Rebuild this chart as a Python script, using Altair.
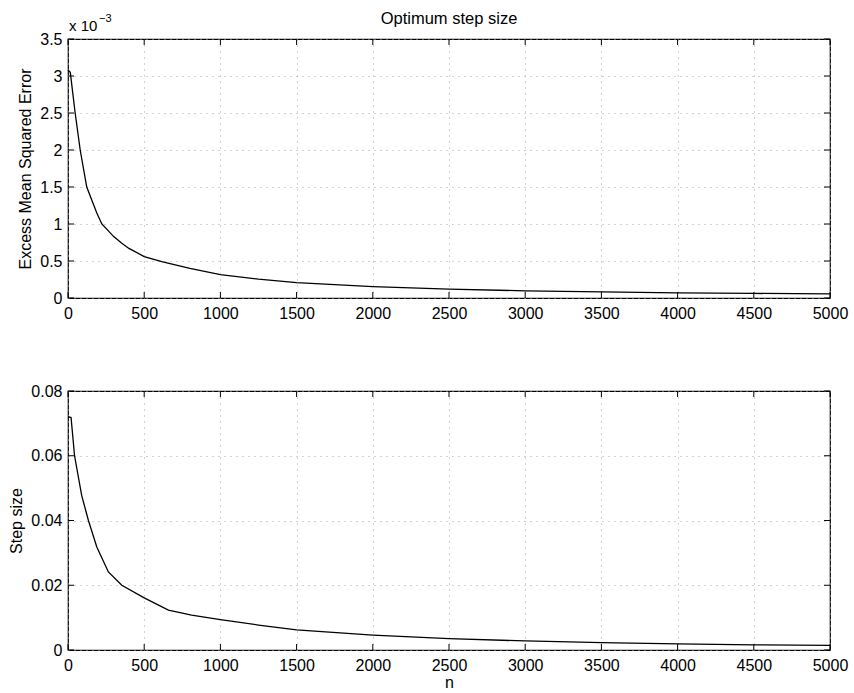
import altair as alt
import pandas as pd

# ---- data ----
n_top = [0, 15, 47, 80, 123, 189, 222, 300, 353, 400, 500, 615, 800, 1000, 1250, 1500,
         2000, 2500, 3000, 3500, 4000, 4500, 5000]
# excess MSE in units of 1e-3
emse_e3 = [3.08, 3.05, 2.5, 2.0, 1.5, 1.15, 1.0, 0.83, 0.74, 0.67, 0.56, 0.49, 0.40, 0.317,
           0.254, 0.208, 0.155, 0.12, 0.097, 0.082, 0.07, 0.062, 0.055]

n_bot = [0, 20, 43, 90, 134, 189, 265, 353, 500, 659, 811, 1000, 1250, 1500, 2000, 2500,
         3000, 3500, 4000, 4500, 5000]
step_size = [0.0721, 0.0718, 0.060, 0.0477, 0.040, 0.0318, 0.0241, 0.020, 0.0161, 0.0123,
             0.0108, 0.0094, 0.0077, 0.0062, 0.0046, 0.0035, 0.0028, 0.0023, 0.0019,
             0.0016, 0.0014]

x_ticks = [0, 500, 1000, 1500, 2000, 2500, 3000, 3500, 4000, 4500, 5000]
emse_ticks = [0, 0.5, 1, 1.5, 2, 2.5, 3, 3.5]
step_ticks = [0, 0.02, 0.04, 0.06, 0.08]

title_text = "Optimum step size"
ylab_top = "Excess Mean Squared Error"
ylab_bot = "Step size"
xlab = "n"

W = 762
H = 259
FONT = "Liberation Sans"
TL = 6  # inward tick length


def panel(n, vals, yticks, ydom, ytitle, xtitle, ytp, extra=None):
    df = pd.DataFrame({"n": n, "v": vals})
    xt = pd.DataFrame({"n": x_ticks})
    yt = pd.DataFrame({"v": yticks})
    xscale = alt.Scale(domain=[0, 5000], nice=False, zero=False)
    yscale = alt.Scale(domain=ydom, nice=False, zero=False)

    xaxis = alt.Axis(values=x_ticks, format="d", labelPadding=7, labelFlush=False,
                     title=xtitle if xtitle else "", titlePadding=1)
    yaxis = alt.Axis(values=yticks, format="~g", title=ytitle,
                     labelPadding=6, titlePadding=ytp, labelFlush=False)
    xenc = alt.X("n:Q", scale=xscale, axis=xaxis)
    yenc = alt.Y("v:Q", scale=yscale, axis=yaxis)

    line = alt.Chart(df).mark_line(color="black", strokeWidth=1.3).encode(x=xenc, y=yenc)
    tb = alt.Chart(xt).mark_rule(color="black", strokeWidth=1).encode(
        x=xenc, y=alt.value(H - TL), y2=alt.value(H))
    tt = alt.Chart(xt).mark_rule(color="black", strokeWidth=1).encode(
        x=xenc, y=alt.value(0), y2=alt.value(TL))
    tl = alt.Chart(yt).mark_rule(color="black", strokeWidth=1).encode(
        y=yenc, x=alt.value(0), x2=alt.value(TL))
    tr = alt.Chart(yt).mark_rule(color="black", strokeWidth=1).encode(
        y=yenc, x=alt.value(W - TL), x2=alt.value(W))
    layers = [line, tb, tt, tl, tr]
    if extra:
        layers += extra
    return alt.layer(*layers).properties(width=W, height=H)


ann = pd.DataFrame({"a": [0]})
title_mark = alt.Chart(ann).mark_text(
    text=title_text, font=FONT, fontSize=16.5, color="black", align="center",
    baseline="alphabetic").encode(x=alt.value(W / 2), y=alt.value(-15))
exp_base = alt.Chart(ann).mark_text(
    text="x 10", font=FONT, fontSize=15, color="black", align="left",
    baseline="alphabetic").encode(x=alt.value(1), y=alt.value(-8))
exp_sup = alt.Chart(ann).mark_text(
    text="−3", font=FONT, fontSize=11, color="black", align="left",
    baseline="alphabetic").encode(x=alt.value(31), y=alt.value(-17))

top = panel(n_top, emse_e3, emse_ticks, [0, 3.5], ylab_top, None, 6,
            extra=[title_mark, exp_base, exp_sup])
bot = panel(n_bot, step_size, step_ticks, [0, 0.08], ylab_bot, xlab, 6)

chart = alt.vconcat(top, bot, spacing=60).properties(
    padding={"left": 8, "top": 10, "right": 5, "bottom": 0},
    background="white"
).configure_view(
    stroke="black", strokeWidth=1.2
).configure_axis(
    labelFont=FONT, labelFontSize=16, labelColor="black",
    titleFont=FONT, titleFontSize=16, titleFontWeight="normal", titleColor="black",
    ticks=False, domain=False, grid=True, gridColor="#a5a5a5", gridDash=[1, 5],
    gridWidth=1, gridOpacity=1
)

chart.save("out.html", embed_options={"renderer": "svg", "actions": False})
